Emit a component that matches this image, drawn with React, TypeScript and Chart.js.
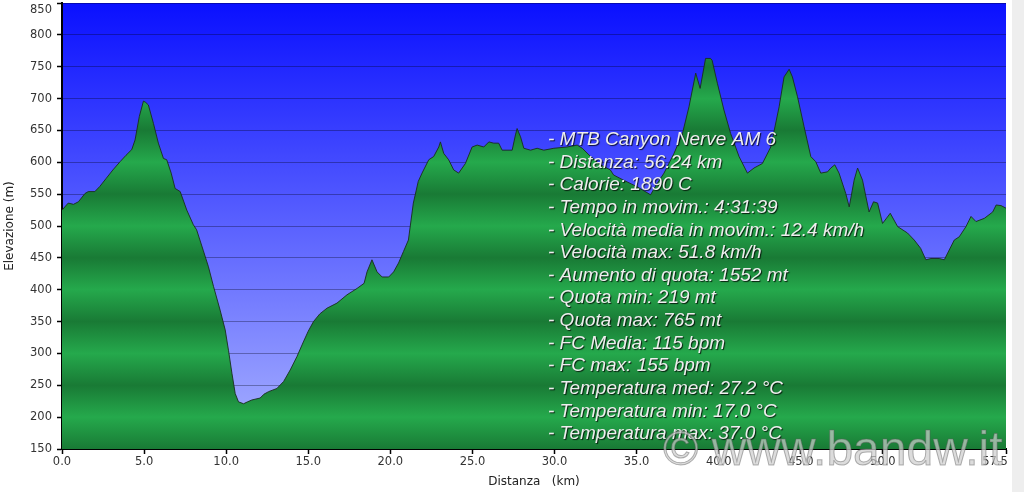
import React, { useEffect, useRef } from "react";
import { Chart, registerables } from "chart.js";

Chart.register(...registerables);

// ---- data ----
const distanceKm = [
  0.0, 0.38, 0.7, 1.0, 1.4, 1.6, 2.0, 2.3, 2.7, 3.1, 3.54, 3.9, 4.25, 4.45, 4.71, 4.96, 5.1, 5.26, 5.57, 5.87,
  6.18, 6.38, 6.65, 6.89, 7.2, 7.6, 8.0, 8.2, 8.6, 8.92, 9.23, 9.63, 9.94, 10.14, 10.35, 10.55, 10.75, 11.06, 11.3, 11.57,
  12.07, 12.3, 12.58, 13.09, 13.5, 13.9, 14.31, 14.7, 15.0, 15.32, 15.7, 16.14, 16.75, 17.36, 17.97, 18.4, 18.58, 18.88, 19.19, 19.5,
  19.9, 20.2, 20.5, 20.8, 21.1, 21.4, 21.7, 21.93, 22.34, 22.64, 22.95, 23.05, 23.25, 23.55, 23.86, 24.16, 24.57, 24.98, 25.29, 25.69,
  26.0, 26.3, 26.6, 26.81, 27.42, 27.62, 27.72, 27.93, 28.13, 28.54, 28.94, 29.35, 29.96, 30.77, 31.38, 31.69, 32.2, 32.8, 33.4, 33.6,
  34.2, 35.0, 35.85, 36.26, 36.67, 37.28, 37.79, 38.19, 38.6, 38.87, 39.2, 39.5, 39.6, 39.92, 40.32, 40.73, 41.24, 41.75, 42.15, 42.66,
  43.17, 43.68, 43.98, 44.29, 44.49, 44.8, 45.2, 45.61, 45.91, 46.22, 46.63, 46.83, 47.07, 47.33, 47.74, 47.95, 48.25, 48.46, 48.76, 49.16,
  49.43, 49.68, 49.98, 50.45, 50.9, 51.5, 51.91, 52.3, 52.62, 52.93, 53.43, 53.74, 54.35, 54.65, 55.06, 55.37, 55.67, 56.18, 56.69, 56.9,
  57.2, 57.5,
];
const elevationM = [
  525, 536, 534, 538, 551, 554, 554, 562, 575, 588, 601, 611, 620, 635, 672, 696, 694, 690, 661, 630,
  606, 604, 583, 559, 554, 525, 502, 494, 462, 436, 405, 368, 337, 305, 269, 237, 224, 221, 224, 227,
  230, 236, 240, 245, 256, 274, 295, 318, 335, 350, 362, 371, 379, 392, 402, 410, 428, 447, 428, 420,
  420, 428, 442, 460, 478, 536, 570, 583, 604, 609, 624, 632, 614, 604, 588, 583, 598, 624, 627, 624,
  632, 630, 630, 619, 619, 643, 653, 640, 622, 619, 622, 619, 622, 624, 627, 622, 609, 596, 588, 580,
  572, 562, 549, 567, 583, 614, 645, 687, 740, 716, 763, 763, 760, 724, 682, 645, 609, 583, 591, 598,
  624, 687, 734, 746, 734, 703, 656, 609, 601, 583, 585, 591, 596, 583, 551, 530, 572, 591, 572, 522,
  538, 536, 504, 520, 499, 489, 478, 465, 447, 449, 449, 447, 478, 483, 499, 515, 507, 512, 522, 533,
  532, 528,
];
const xTickValues = [0, 5, 10, 15, 20, 25, 30, 35, 40, 45, 50, 57.5];
const xMin = 0;
const xMax = 57.5;
const yMin = 150;
const yMax = 850;
const yStep = 50;
const xTitle = "Distanza   (km)";
const yTitle = "Elevazione (m)";
const statsLines = [
  "- MTB Canyon Nerve AM 6",
  "- Distanza: 56.24 km",
  "- Calorie: 1890 C",
  "- Tempo in movim.: 4:31:39",
  "- Velocità media in movim.: 12.4 km/h",
  "- Velocità max: 51.8 km/h",
  "- Aumento di quota: 1552 mt",
  "- Quota min: 219 mt",
  "- Quota max: 765 mt",
  "- FC Media: 115 bpm",
  "- FC max: 155 bpm",
  "- Temperatura med: 27.2 °C",
  "- Temperatura min: 17.0 °C",
  "- Temperatura max: 37.0 °C",
];
const watermark = "© www.bandw.it";

// ---- styles ----
const GREEN_LIGHT = "#25a94c";
const GREEN_DARK = "#197a35";
const AXIS_FONT = "'DejaVu Sans', Verdana, sans-serif";

const backgroundPlugin = {
  id: "bgPlugin",
  beforeDraw(chart: any) {
    const { ctx, chartArea } = chart;
    if (!chartArea) return;
    ctx.save();
    ctx.fillStyle = "#ffffff";
    ctx.fillRect(0, 0, chart.width, chart.height);
    const g = ctx.createLinearGradient(0, chartArea.top, 0, chartArea.bottom);
    g.addColorStop(0, "#0a10ff");
    g.addColorStop(1, "#aab3ff");
    ctx.fillStyle = g;
    ctx.fillRect(chartArea.left, chartArea.top, chartArea.right - chartArea.left, chartArea.bottom - chartArea.top);
    ctx.fillStyle = "#eeeeee";
    ctx.fillRect(1012, 0, chart.width - 1012, chart.height);
    ctx.restore();
  },
};

const overlayPlugin = {
  id: "overlayPlugin",
  afterDraw(chart: any) {
    const { ctx } = chart;
    ctx.save();
    ctx.font = "italic 19px 'Liberation Sans', Arial, sans-serif";
    ctx.textAlign = "left";
    ctx.textBaseline = "alphabetic";
    statsLines.forEach((line, i) => {
      const y = 145 + i * 22.64;
      ctx.shadowColor = "rgba(0,0,0,0.8)";
      ctx.shadowOffsetX = 1;
      ctx.shadowOffsetY = 1;
      ctx.shadowBlur = 1;
      ctx.fillStyle = "#eeeeee";
      ctx.fillText(line, 548, y);
    });
    ctx.shadowColor = "transparent";
    ctx.shadowBlur = 0;
    ctx.shadowOffsetX = 0;
    ctx.shadowOffsetY = 0;
    ctx.font = "48px 'Liberation Sans', Arial, sans-serif";
    ctx.fillStyle = "rgba(205,205,205,0.7)";
    ctx.fillText(watermark, 663, 465);
    ctx.strokeStyle = "rgba(90,90,90,0.45)";
    ctx.lineWidth = 1;
    ctx.strokeText(watermark, 663, 465);
    ctx.restore();
  },
};

export default function App() {
  const canvasRef = useRef<HTMLCanvasElement | null>(null);

  useEffect(() => {
    const canvas = canvasRef.current;
    if (!canvas) return;
    const points = distanceKm.map((d, i) => ({ x: d, y: elevationM[i] }));
    const tickFont = { family: AXIS_FONT, size: 11.5 };
    const chart = new Chart(canvas, {
      type: "line",
      data: {
        datasets: [
          {
            data: points,
            borderColor: "rgba(25,45,30,0.9)",
            borderWidth: 1,
            pointRadius: 0,
            tension: 0,
            fill: "start",
            backgroundColor: (c: any) => {
              const ch = c.chart;
              const area = ch.chartArea;
              const ys = ch.scales && ch.scales.y;
              if (!area || !ys) return GREEN_LIGHT;
              const g = ch.ctx.createLinearGradient(0, area.top, 0, area.bottom);
              const h = area.bottom - area.top;
              for (let v = yMax; v >= yMin; v -= yStep) {
                const p = (ys.getPixelForValue(v) - area.top) / h;
                const col = v % 100 === 0 ? GREEN_LIGHT : GREEN_DARK;
                g.addColorStop(Math.min(1, Math.max(0, p)), col);
              }
              return g;
            },
          },
        ],
      },
      options: {
        animation: false,
        responsive: false,
        devicePixelRatio: 1,
        events: [],
        layout: { padding: { top: 3, right: 18, left: 0, bottom: 0 } },
        plugins: {
          legend: { display: false },
          tooltip: { enabled: false },
          title: { display: false },
        },
        scales: {
          x: {
            type: "linear",
            min: xMin,
            max: xMax,
            z: 1,
            afterBuildTicks: (scale: any) => {
              scale.ticks = xTickValues.map((v) => ({ value: v }));
            },
            afterFit: (scale: any) => {
              scale.height = 43;
              scale.paddingLeft = 0;
              scale.paddingRight = 0;
            },
            grid: {
              drawOnChartArea: false,
              drawTicks: true,
              tickLength: 5,
              tickColor: "#000000",
              tickWidth: 1.5,
            },
            border: { display: true, color: "#000000", width: 2 },
            ticks: {
              autoSkip: false,
              maxRotation: 0,
              padding: 1,
              color: "#333333",
              font: tickFont,
              callback: (v: any) => {
                const s = Number(v).toFixed(1);
                return Number(v) === xMax ? s + "      " : s;
              },
            },
            title: {
              display: true,
              text: xTitle,
              color: "#222222",
              font: { family: AXIS_FONT, size: 12 },
              padding: { top: 0, bottom: 3 },
            },
          },
          y: {
            type: "linear",
            min: yMin,
            max: yMax,
            z: 1,
            afterFit: (scale: any) => {
              scale.width = 62;
              scale.paddingTop = 0;
              scale.paddingBottom = 0;
            },
            grid: {
              color: "rgba(0,0,20,0.32)",
              lineWidth: 1,
              drawTicks: true,
              tickLength: 5,
              tickColor: "#000000",
              tickWidth: 1.5,
            },
            border: { display: true, color: "#000000", width: 2 },
            ticks: {
              stepSize: yStep,
              padding: 5,
              color: "#333333",
              font: tickFont,
              callback: (v: any) => {
                const s = String(v);
                return Number(v) === yMax ? ["", s] : s;
              },
            },
            title: {
              display: true,
              text: yTitle,
              color: "#222222",
              font: { family: AXIS_FONT, size: 12 },
              padding: { top: 3, bottom: 0 },
            },
          },
        },
      },
      plugins: [backgroundPlugin, overlayPlugin],
    } as any);
    return () => chart.destroy();
  }, []);

  return (
    <div style={{ position: "absolute", left: 0, top: 0, width: 1024, height: 492 }}>
      <canvas ref={canvasRef} width={1024} height={492} style={{ display: "block" }} />
    </div>
  );
}
